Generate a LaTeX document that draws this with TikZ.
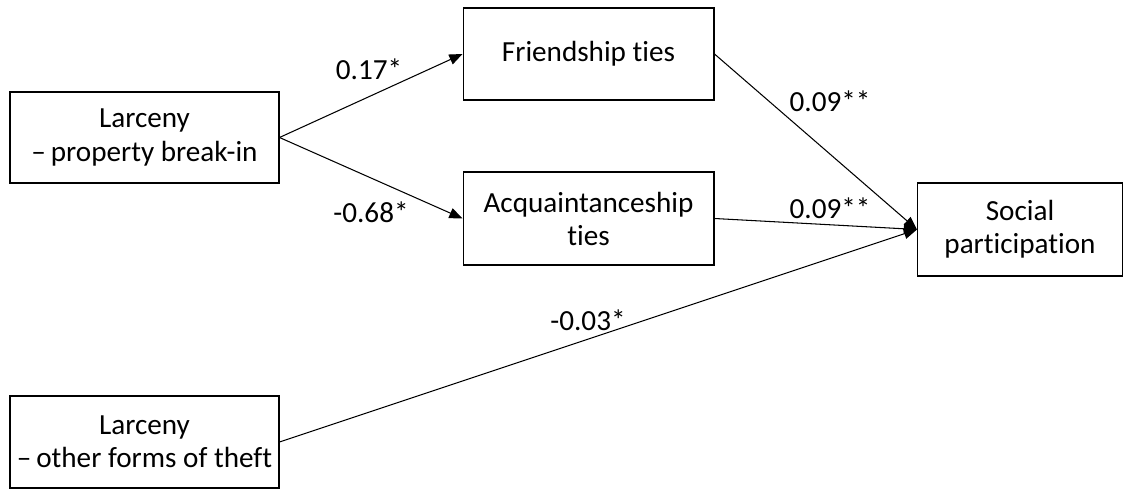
\documentclass[tikz,border=0pt]{standalone}
\usepackage{fontspec}
\setmainfont{Carlito}[Ligatures=NoCommon]
\usetikzlibrary{arrows.meta}
\newcommand{\ArrHead}{Triangle[length=7.5pt,width=6pt]}
\tikzset{varbox/.style={draw,line width=.6pt,inner sep=0pt,align=center,font=\fontsize{16.6}{18.8}\selectfont},
coef/.style={font=\fontsize{16.6}{18}\selectfont,inner sep=0pt},
path/.style={line width=.6pt,-{\ArrHead}}}

\begin{document}
\begin{tikzpicture}[x=.02cm,y=-.02cm]
\useasboundingbox(0,0)rectangle(1124,489);
\node[varbox,minimum width=5.38cm,minimum height=1.82cm](lpb)at(144.5,137.5){Larceny\\–\,property break-in};
\node[varbox,minimum width=5.38cm,minimum height=1.84cm](oth)at(144.5,442){Larceny\\–\,other forms of theft};
\node[varbox,minimum width=5.02cm,minimum height=1.84cm](fri)at(588.5,54){Friendship ties};
\node[varbox,minimum width=5.02cm,minimum height=1.86cm](acq)at(588.5,218.5){Acquaintanceship\\ties};
\node[varbox,minimum width=4.1cm,minimum height=1.86cm](soc)at(1020,229.5){Social\\participation};
\draw[path](lpb.east)--(fri.west);\draw[path](lpb.east)--(acq.west);
\draw[path](fri.east)--(soc.west);\draw[path](acq.east)--(soc.west);
\draw[path](oth.east)--(soc.west);
\node[coef](c1)at(369,69){0.17*};\node[coef](c2)at(371,212){-0.68*};
\node[coef](c3)at(830,101){0.09**};\node[coef](c4)at(830,208){0.09**};
\node[coef](c5)at(588,320){-0.03*};
\end{tikzpicture}
\end{document}
